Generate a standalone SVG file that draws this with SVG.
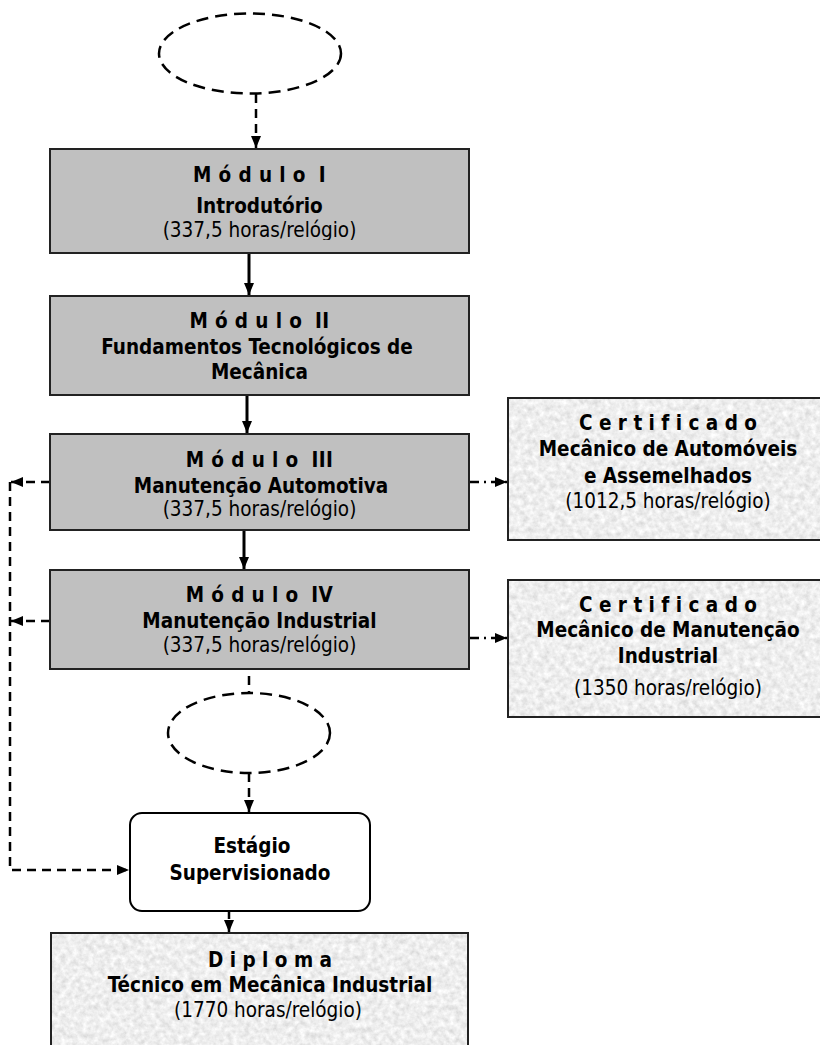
<svg xmlns="http://www.w3.org/2000/svg" width="820" height="1045" viewBox="0 0 820 1045">
<defs>
<style>
text{font-family:"DejaVu Sans Condensed","DejaVu Sans","Liberation Sans",sans-serif;font-size:20.5px;fill:#000;text-anchor:middle}
.b{font-weight:bold}
.hd{letter-spacing:0.4px}
.mod{fill:#c0c0c0;stroke:#222;stroke-width:2}
.tex{stroke:#222;stroke-width:2;fill:none}
.solid{stroke:#000;stroke-width:3;fill:none}
.dash{stroke:#000;stroke-width:2.5;fill:none;stroke-dasharray:9 6}
.dd{stroke:#000;stroke-width:2.5;fill:none;stroke-dasharray:9 5 2 5}
.ell{stroke:#000;stroke-width:2.5;fill:none;stroke-dasharray:12 7}
</style>
<marker id="ah" viewBox="0 0 12 10" refX="12" refY="5" markerWidth="13" markerHeight="10" markerUnits="userSpaceOnUse" orient="auto">
<path d="M0,0 L12,5 L0,10 Z" fill="#000"/>
</marker>
<filter id="granite" x="0" y="0" width="100%" height="100%">
<feTurbulence type="fractalNoise" baseFrequency="0.18" numOctaves="3" seed="7" result="n"/>
<feColorMatrix in="n" type="matrix" values="0.45 0 0 0 0.63  0.45 0 0 0 0.63  0.45 0 0 0 0.63  0 0 0 0 1" result="g"/>
<feComposite in="g" in2="SourceGraphic" operator="in"/>
</filter>
<clipPath id="clip1"><rect x="50" y="149" width="419" height="91"/></clipPath>
</defs>

<g id="connectors">
<line class="dash" x1="256" y1="94" x2="256" y2="148" marker-end="url(#ah)"/>
<line class="solid" x1="249" y1="254" x2="249" y2="295" marker-end="url(#ah)"/>
<line class="solid" x1="247" y1="396" x2="247" y2="433" marker-end="url(#ah)"/>
<line class="solid" x1="244" y1="531" x2="244" y2="569" marker-end="url(#ah)"/>
<line class="dash" x1="50" y1="482" x2="11" y2="482" marker-end="url(#ah)"/>
<line class="dash" x1="50" y1="621" x2="11" y2="621" marker-end="url(#ah)"/>
<polyline class="dash" points="10,482 10,870 129,870" marker-end="url(#ah)"/>
<line class="dd" x1="470" y1="482" x2="507" y2="482" marker-end="url(#ah)"/>
<line class="dd" x1="470" y1="638" x2="507" y2="638" marker-end="url(#ah)"/>
<line class="dash" x1="249" y1="676" x2="249" y2="693"/>
<line class="dash" x1="249" y1="773" x2="249" y2="812" marker-end="url(#ah)"/>
<line class="dash" x1="229" y1="895" x2="229" y2="932" marker-end="url(#ah)"/>
</g>

<g id="start-ellipse">
<ellipse class="ell" cx="250" cy="53.5" rx="91" ry="40"/>
</g>

<g id="modulo1">
<rect class="mod" x="50" y="149" width="419" height="104"/>
<text class="b hd" x="259.5" y="182">M ó d u l o <tspan dx="6">I</tspan></text>
<text class="b" x="259.5" y="213">Introdutório</text>
<text x="259.5" y="237" clip-path="url(#clip1)">(337,5 horas/relógio)</text>
</g>

<g id="modulo2">
<rect class="mod" x="50" y="296" width="419" height="99"/>
<text class="b hd" x="259.5" y="328">M ó d u l o <tspan dx="6">II</tspan></text>
<text class="b" x="257" y="354">Fundamentos Tecnológicos de</text>
<text class="b" x="259.5" y="379">Mecânica</text>
</g>

<g id="modulo3">
<rect class="mod" x="50" y="434" width="419" height="96"/>
<text class="b hd" x="259.5" y="467">M ó d u l o <tspan dx="6">III</tspan></text>
<text class="b" x="261" y="493">Manutenção Automotiva</text>
<text x="259.5" y="516">(337,5 horas/relógio)</text>
</g>

<g id="modulo4">
<rect class="mod" x="50" y="570" width="419" height="99"/>
<text class="b hd" x="259.5" y="602">M ó d u l o <tspan dx="6">IV</tspan></text>
<text class="b" x="259.5" y="628">Manutenção Industrial</text>
<text x="259.5" y="652">(337,5 horas/relógio)</text>
</g>

<g id="certificado1">
<rect x="508" y="398" width="320" height="142" fill="#fff" filter="url(#granite)"/>
<rect class="tex" x="508" y="398" width="320" height="142"/>
<text class="b" x="668" y="430">C e r t i f i c a d o</text>
<text class="b" x="668" y="456">Mecânico de Automóveis</text>
<text class="b" x="668" y="483">e Assemelhados</text>
<text x="668" y="508">(1012,5 horas/relógio)</text>
</g>

<g id="certificado2">
<rect x="508" y="580" width="320" height="137" fill="#fff" filter="url(#granite)"/>
<rect class="tex" x="508" y="580" width="320" height="137"/>
<text class="b" x="668" y="612">C e r t i f i c a d o</text>
<text class="b" x="668" y="637">Mecânico de Manutenção</text>
<text class="b" x="668" y="663">Industrial</text>
<text x="668" y="695">(1350 horas/relógio)</text>
</g>

<g id="mid-ellipse">
<ellipse class="ell" cx="249" cy="733" rx="81" ry="40"/>
</g>

<g id="estagio">
<rect x="130" y="813" width="240" height="98" rx="12" ry="12" fill="#fff" stroke="#000" stroke-width="2"/>
<text class="b" x="252" y="853">Estágio</text>
<text class="b" x="250" y="880">Supervisionado</text>
</g>

<g id="diploma">
<rect x="51" y="933" width="417" height="120" fill="#fff" filter="url(#granite)"/>
<rect class="tex" x="51" y="933" width="417" height="120"/>
<text class="b" x="270" y="967">D i p l o m a</text>
<text class="b" x="270" y="992">Técnico em Mecânica Industrial</text>
<text x="268" y="1017">(1770 horas/relógio)</text>
</g>
</svg>
